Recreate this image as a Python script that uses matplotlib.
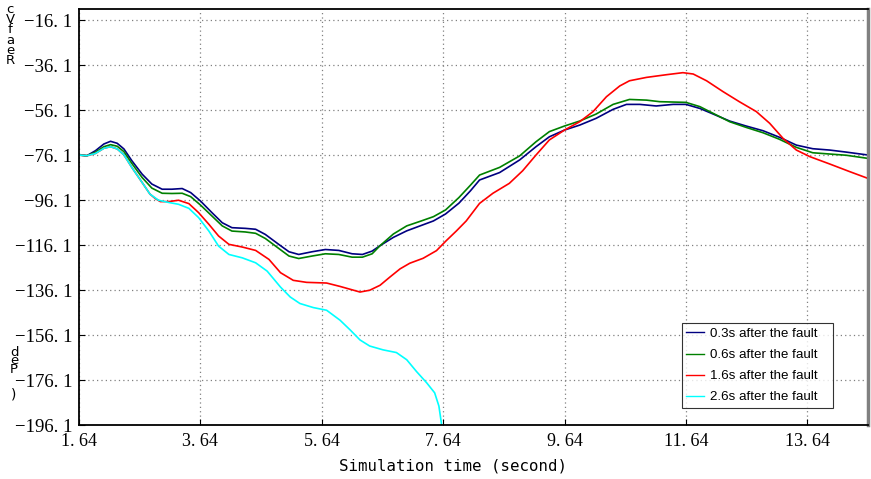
import numpy as np
import matplotlib
matplotlib.use("Agg")
import matplotlib.pyplot as plt

# ---- data ----
x_03 = [1.64, 1.77, 1.91, 2.05, 2.16, 2.27, 2.38, 2.51, 2.68, 2.84, 3.01, 3.17, 3.34, 3.48, 3.64, 3.83,
        4.00, 4.16, 4.38, 4.55, 4.71, 4.93, 5.10, 5.26, 5.48, 5.70, 5.92, 6.14, 6.31, 6.47, 6.60, 6.82,
        7.04, 7.26, 7.48, 7.68, 7.90, 8.09, 8.24, 8.57, 8.90, 9.17, 9.39, 9.64, 9.89, 10.16, 10.44, 10.66,
        10.88, 11.15, 11.43, 11.64, 11.87, 12.09, 12.36, 12.63, 12.91, 13.18, 13.46, 13.73, 14.01, 14.28,
        14.64]
y_03 = [-76.1, -76.4, -74.2, -71.2, -70.0, -70.9, -73.4, -78.6, -84.6, -89.0, -91.3, -91.3, -91.0, -92.8,
        -96.5, -101.7, -106.2, -108.4, -108.7, -109.1, -111.4, -115.8, -119.1, -120.3, -119.1, -118.1,
        -118.5, -120.0, -120.3, -118.8, -116.4, -112.7, -109.8, -107.6, -105.4, -102.3, -97.5, -92.0,
        -87.2, -83.9, -78.3, -72.4, -68.0, -65.0, -62.8, -59.8, -55.8, -53.6, -53.6, -54.3, -53.6, -53.6,
        -55.4, -57.9, -61.0, -63.2, -65.3, -68.2, -71.7, -73.3, -73.9, -74.8, -76.1]

x_06 = [1.64, 1.77, 1.91, 2.05, 2.16, 2.27, 2.38, 2.51, 2.68, 2.84, 3.01, 3.17, 3.34, 3.48, 3.64, 3.83,
        4.00, 4.16, 4.38, 4.55, 4.71, 4.93, 5.10, 5.26, 5.48, 5.70, 5.92, 6.14, 6.31, 6.47, 6.60, 6.82,
        7.04, 7.28, 7.48, 7.68, 7.90, 8.09, 8.24, 8.57, 8.90, 9.17, 9.39, 9.64, 9.89, 10.16, 10.44, 10.71,
        10.99, 11.21, 11.64, 11.87, 12.09, 12.36, 12.63, 12.91, 13.18, 13.46, 13.73, 14.28, 14.64]
y_06 = [-76.1, -76.4, -74.9, -72.4, -71.5, -72.2, -74.6, -79.8, -86.1, -90.8, -93.1, -93.2, -93.1, -94.6,
        -98.3, -103.2, -107.6, -109.9, -110.3, -110.9, -113.2, -117.6, -121.0, -122.1, -121.0, -120.0,
        -120.3, -121.5, -121.5, -120.0, -116.4, -111.2, -107.6, -105.4, -103.5, -100.5, -95.0, -89.5,
        -85.0, -81.6, -76.5, -70.2, -65.7, -63.2, -61.0, -57.9, -53.6, -51.4, -51.7, -52.4, -52.7, -54.6,
        -57.6, -61.3, -63.8, -66.2, -69.1, -72.7, -75.1, -76.2, -77.6]

x_16 = [1.64, 1.77, 1.91, 2.05, 2.16, 2.27, 2.38, 2.51, 2.68, 2.81, 2.90, 2.98, 3.12, 3.28, 3.45, 3.61,
        3.78, 3.94, 4.11, 4.33, 4.55, 4.77, 4.96, 5.17, 5.39, 5.72, 5.94, 6.27, 6.43, 6.60, 6.76, 6.93,
        7.09, 7.31, 7.53, 7.69, 7.86, 8.02, 8.24, 8.46, 8.73, 8.95, 9.17, 9.39, 9.64, 9.89, 10.11, 10.33,
        10.55, 10.71, 10.99, 11.32, 11.59, 11.76, 11.98, 12.25, 12.52, 12.80, 13.02, 13.24, 13.46, 13.68,
        14.01, 14.34, 14.64]
y_16 = [-76.1, -76.4, -75.4, -73.1, -72.4, -73.4, -76.0, -81.6, -88.3, -93.5, -95.5, -96.8, -96.8, -96.2,
        -97.7, -101.7, -106.9, -112.1, -115.8, -117.0, -118.5, -122.5, -128.4, -131.8, -132.7, -133.0,
        -134.5, -137.0, -136.2, -134.0, -130.4, -126.7, -124.2, -122.0, -118.6, -114.2, -109.8, -105.4,
        -97.6, -93.1, -88.7, -83.1, -76.1, -69.4, -65.0, -61.3, -56.8, -50.2, -45.4, -43.1, -41.6, -40.4,
        -39.5, -40.1, -43.1, -47.9, -52.4, -56.8, -62.0, -68.7, -73.9, -76.8, -80.1, -83.5, -86.5]

x_26 = [1.64, 1.77, 1.91, 2.05, 2.16, 2.27, 2.38, 2.51, 2.68, 2.81, 2.95, 3.12, 3.28, 3.45, 3.61, 3.78,
        3.94, 4.11, 4.33, 4.55, 4.74, 4.96, 5.12, 5.28, 5.50, 5.72, 5.94, 6.11, 6.27, 6.43, 6.65, 6.87,
        7.04, 7.20, 7.37, 7.50, 7.57, 7.61, 7.62]
y_26 = [-76.1, -76.4, -75.4, -73.1, -72.4, -73.4, -76.0, -81.6, -88.3, -93.5, -96.2, -97.2, -98.0, -99.8,
        -103.9, -109.9, -116.6, -120.3, -121.8, -124.0, -127.7, -134.8, -139.2, -142.1, -143.9, -145.1,
        -149.5, -153.9, -158.3, -161.0, -162.7, -163.9, -167.1, -172.3, -177.4, -181.8, -187.7, -195.1,
        -199.0]

series_labels = ["0.3s after the fault", "0.6s after the fault",
                 "1.6s after the fault", "2.6s after the fault"]
series_colors = ["#000080", "#008000", "#ff0000", "#00ffff"]

x_ticks = [1.64, 3.64, 5.64, 7.64, 9.64, 11.64, 13.64]
y_ticks = [-196.1, -176.1, -156.1, -136.1, -116.1, -96.1, -76.1, -56.1, -36.1, -16.1]
x_label = "Simulation time (second)"
ylabel_top = "c\nV\nf\na\ne\nR"
ylabel_mid = "d\ne\nP"
ylabel_end = ")"

# ---- figure ----
fig = plt.figure(figsize=(8.71, 4.79), dpi=100)
ax = fig.add_axes([79 / 871, 1 - 425 / 479, (868 - 79) / 871, (425 - 9) / 479])

for xs, ys, lab, col in zip([x_03, x_06, x_16, x_26], [y_03, y_06, y_16, y_26],
                            series_labels, series_colors):
    ax.plot(xs, ys, color=col, lw=1.2, label=lab, solid_joinstyle="round")

ax.set_xlim(1.64, 14.64)
ax.set_ylim(-196.1, -11.2)
ax.set_xticks(x_ticks)
ax.set_yticks(y_ticks)

def fmt(v, nd):
    s = f"{abs(v):.{nd}f}".replace(".", ". ")
    return ("\u2212" if v < 0 else "") + s

ax.set_xticklabels([fmt(v, 2) for v in x_ticks], family="Liberation Serif", fontsize=13)
ax.set_yticklabels([fmt(v, 1) for v in y_ticks], family="Liberation Serif", fontsize=13.5)
ax.tick_params(direction="in", length=4, width=0.8)
ax.tick_params(axis="x", pad=6)
ax.tick_params(axis="y", pad=5)
ax.grid(True, color="#808080", linestyle=(0, (1, 2.5)), linewidth=0.9)
ax.set_xlabel(x_label, family="DejaVu Sans Mono", fontsize=11.3, labelpad=6)
ax.xaxis.set_label_coords((453 - 79) / 789, -0.08)

for s in ["left", "bottom", "top"]:
    ax.spines[s].set_linewidth(1.3)
    ax.spines[s].set_color("black")
ax.spines["right"].set_linewidth(2.5)
ax.spines["right"].set_color("#808080")

leg = ax.legend(loc="upper left", bbox_to_anchor=(0.764, 0.245, 0.192, 0.0), mode="expand",
                prop={"family": "Liberation Sans", "size": 9.6}, frameon=True, fancybox=False,
                handlelength=1.35, handletextpad=0.45, borderpad=0.35, labelspacing=0.66,
                borderaxespad=0)
leg.get_frame().set_edgecolor("black")
leg.get_frame().set_linewidth(0.8)
for h in leg.get_lines():
    h.set_linewidth(1.0)

fig.text(10 / 871, 1 - 35 / 479, ylabel_top, fontsize=9.5, ha="center", va="center",
         family="DejaVu Sans", linespacing=0.72)
fig.text(14 / 871, 1 - 361 / 479, ylabel_mid, fontsize=9.5, ha="center", va="center",
         family="DejaVu Sans", linespacing=0.55)
fig.text(14 / 871, 1 - 395 / 479, ylabel_end, fontsize=10, ha="center", va="center",
         family="DejaVu Sans")

fig.savefig("out.png", dpi=100)
